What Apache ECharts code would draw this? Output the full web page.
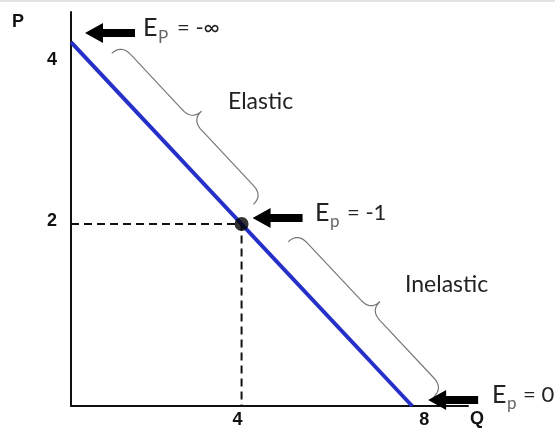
<!DOCTYPE html>
<html><head><meta charset="utf-8">
<script src="https://cdn.jsdelivr.net/npm/echarts@6/dist/echarts.min.js"></script>
<style>html,body{margin:0;padding:0;background:#fff}#c{width:555px;height:431px}</style>
</head><body><div id="c"></div>
<script>
// ---- data ----
const demandQ = [0, 8];
const demandP = [4, 0];
const unitPoint = [4, 2];
const xTickValues = [4, 8];
const xTickLabels = ['4', '8'];
const yTickValues = [4, 2];
const yTickLabels = ['4', '2'];
const axisNames = ['Q', 'P'];
const elasticityValues = ['-∞', '-1', '0'];
const elasticitySubs = ['P', 'p', 'p'];
const regionLabels = ['Elastic', 'Inelastic'];
const braceQRanges = [[0.58, 3.9], [4.72, 8.13]];

const chart = echarts.init(document.getElementById('c'), null, {renderer: 'canvas'});
const demandData = demandQ.map((q, i) => [q, demandP[i]]);

chart.setOption({
  animation: false,
  backgroundColor: '#fff',
  grid: {left: 71, right: 87, top: 12, bottom: 25, containLabel: false},
  xAxis: {type: 'value', min: 0, max: 9.31,
    axisLine: {show: true, onZero: false, lineStyle: {color: '#111', width: 2}},
    axisTick: {show: false}, axisLabel: {show: false}, splitLine: {show: false}},
  yAxis: {type: 'value', min: 0, max: 4.33,
    axisLine: {show: true, onZero: false, lineStyle: {color: '#111', width: 2}},
    axisTick: {show: false}, axisLabel: {show: false}, splitLine: {show: false}},
  series: [
    {type: 'line', data: demandData, showSymbol: false, z: 3,
     lineStyle: {color: '#2630c8', width: 4}},
    {type: 'line', data: [[0, unitPoint[1]], unitPoint, [unitPoint[0], 0]], showSymbol: false, z: 2,
     lineStyle: {color: '#111', width: 2, type: [8, 5]}},
    {type: 'scatter', data: [unitPoint], symbolSize: 14, z: 4,
     itemStyle: {color: '#000'}}
  ]
});

const px = v => chart.convertToPixel({gridIndex: 0}, v);
const pStart = px(demandData[0]);
const pEnd = px(demandData[1]);
const pUnit = px(unitPoint);

const G = [];
const labelFont = {fontFamily: 'Liberation Sans, Arial, sans-serif', fontWeight: 'bold', fontSize: 18, fill: '#111'};
const thinFont = {fontFamily: 'Lato, sans-serif', fill: '#222'};

// tick labels
const yOff = [18, -3];
yTickValues.forEach((v, i) => {
  const p = px([0, v]);
  G.push({type: 'text', x: 52, y: p[1] + yOff[i], style: Object.assign({text: yTickLabels[i], align: 'center', verticalAlign: 'middle'}, labelFont)});
});
const xOff = [-4, 12];
xTickValues.forEach((v, i) => {
  const p = px([v, 0]);
  G.push({type: 'text', x: p[0] + xOff[i], y: 420, style: Object.assign({text: xTickLabels[i], align: 'center', verticalAlign: 'middle'}, labelFont)});
});
G.push({type: 'text', x: 477, y: 419, style: Object.assign({text: axisNames[0], align: 'center', verticalAlign: 'middle'}, labelFont)});
G.push({type: 'text', x: 18, y: 22, style: Object.assign({text: axisNames[1], align: 'center', verticalAlign: 'middle'}, labelFont)});

// arrows
function arrow(tx, ty, len) {
  const hl = 18, hw = 10, sw = 4;
  return {type: 'polygon', z: 10, shape: {points: [
    [tx, ty], [tx + hl, ty - hw], [tx + hl, ty - sw], [tx + len, ty - sw],
    [tx + len, ty + sw], [tx + hl, ty + sw], [tx + hl, ty + hw]]},
    style: {fill: '#000'}};
}
const anchors = [pStart, pUnit, pEnd];
const arrowOff = [[14, -9], [11, -6], [16, -6]];
const textLeft = [143, 315, 492];
const valueOffset = [34, 32, 31];
anchors.forEach((a, i) => {
  const tx = a[0] + arrowOff[i][0], ty = a[1] + arrowOff[i][1];
  G.push(arrow(tx, ty, 50));
  const cy = ty - 5;
  const L = textLeft[i];
  G.push({type: 'text', x: L, y: cy, style: Object.assign({text: 'E', fontSize: 25, verticalAlign: 'middle'}, thinFont)});
  G.push({type: 'text', x: L + 15, y: cy + 9, style: {text: elasticitySubs[i], fontSize: 17, verticalAlign: 'middle', fill: '#666', fontFamily: 'Lato, sans-serif'}});
  G.push({type: 'text', x: L + valueOffset[i], y: cy, style: Object.assign({text: '= ' + elasticityValues[i], fontSize: 22, verticalAlign: 'middle'}, thinFont)});
});

// region labels
G.push({type: 'text', x: 228, y: 102, style: Object.assign({text: regionLabels[0], fontSize: 23, verticalAlign: 'middle'}, thinFont)});
G.push({type: 'text', x: 405, y: 285, style: Object.assign({text: regionLabels[1], fontSize: 23, verticalAlign: 'middle'}, thinFont)});

// braces (sampled quadratic curves drawn as polylines)
const dx = pEnd[0] - pStart[0], dy = pEnd[1] - pStart[1];
const len = Math.hypot(dx, dy);
const t = [dx / len, dy / len];
const n = [t[1], -t[0]];
function lineAtQ(q) {
  const f = (q - demandQ[0]) / (demandQ[1] - demandQ[0]);
  return [pStart[0] + dx * f, pStart[1] + dy * f];
}
function quad(p0, c, p1, out) {
  for (let k = 1; k <= 12; k++) {
    const s = k / 12, a = (1 - s) * (1 - s), b = 2 * (1 - s) * s, e = s * s;
    out.push([a * p0[0] + b * c[0] + e * p1[0], a * p0[1] + b * c[1] + e * p1[1]]);
  }
}
braceQRanges.forEach(r => {
  const a0 = lineAtQ(r[0]), b0 = lineAtQ(r[1]);
  const off = 22;
  const A = [a0[0] + n[0] * off, a0[1] + n[1] * off];
  const B = [b0[0] + n[0] * off, b0[1] + n[1] * off];
  const Lb = Math.hypot(B[0] - A[0], B[1] - A[1]);
  const h = 13, rr = 14, m = Lb / 2;
  const P = (u, v) => [A[0] + u * t[0] + v * n[0], A[1] + u * t[1] + v * n[1]];
  const pts = [P(0, 0)];
  quad(P(0, 0), P(0, h), P(rr, h), pts);
  pts.push(P(m - rr, h));
  quad(P(m - rr, h), P(m, h), P(m, 2 * h), pts);
  quad(P(m, 2 * h), P(m, h), P(m + rr, h), pts);
  pts.push(P(Lb - rr, h));
  quad(P(Lb - rr, h), P(Lb, h), P(Lb, 0), pts);
  G.push({type: 'polyline', z: 5, shape: {points: pts}, style: {fill: null, stroke: '#777', lineWidth: 1.2}});
});

// faint top border like the reference
G.push({type: 'rect', shape: {x: 0, y: 0, width: 555, height: 2}, style: {fill: '#e2e2e2'}});

chart.setOption({graphic: G});
</script></body></html>
